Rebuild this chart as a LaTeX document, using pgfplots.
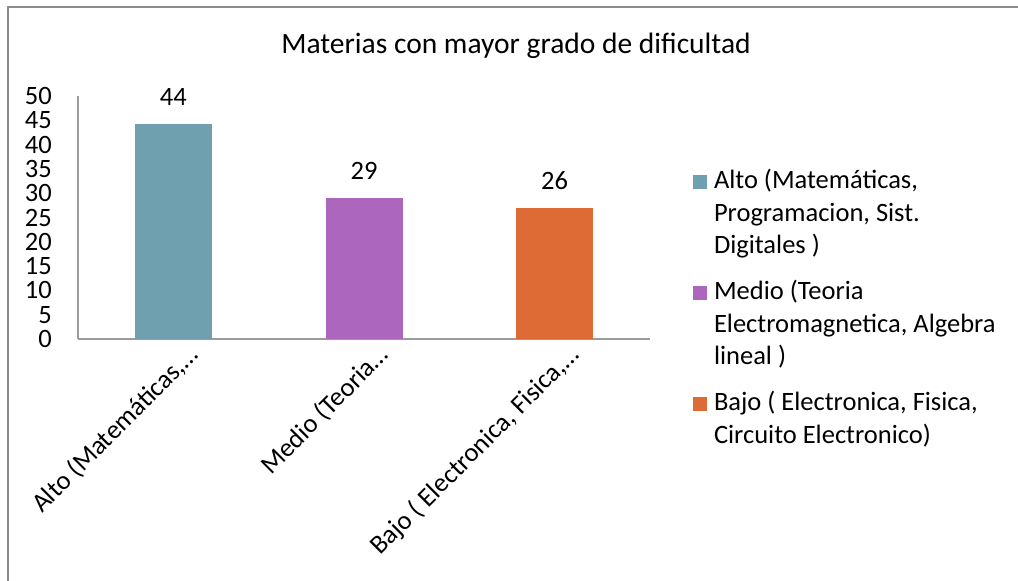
\documentclass[border=0pt]{standalone}
\usepackage{pgfplots}
\pgfplotsset{compat=1.18}
\usepackage{fontspec}
\setmainfont{Carlito}
\definecolor{cA}{RGB}{111,160,176}
\definecolor{cB}{RGB}{172,102,190}
\definecolor{cC}{RGB}{222,107,54}
\definecolor{axgray}{RGB}{155,155,155}
\definecolor{framegray}{RGB}{140,140,140}
\begin{document}
\begin{tikzpicture}[x=1pt,y=1pt]
\path[use as bounding box, fill=white] (0,0) rectangle (1018,581);
\draw[framegray, line width=1.5pt] (8,-2) -- (8,574) -- (1020,574);
\node[font=\fontsize{29.5}{34}\selectfont, anchor=base] at (516,527) {Materias con mayor grado de dificultad};
\begin{axis}[
 at={(78pt,242pt)}, anchor=south west,
 scale only axis, width=572pt, height=243pt,
 xmin=-0.5, xmax=2.5, ymin=0, ymax=50,
 axis x line*=bottom, axis y line*=left,
 axis line style={axgray, line width=1.2pt, -},
 ytick={0,5,...,50},
 xtick={0,1,2},
 xticklabels={{Alto (Matemáticas,…}, {Medio (Teoria…}, {Bajo ( Electronica, Fisica,…}},
 major tick length=0pt,
 tick style={draw=none},
 /pgf/number format/assume math mode=true,
 yticklabel style={font=\fontsize{26.5}{28}\selectfont, anchor=east, inner sep=0pt, xshift=-26pt},
 xticklabel style={font=\fontsize{26.5}{28}\selectfont, rotate=45, anchor=east, inner sep=0pt, xshift=6pt, yshift=-23pt},
 ybar, bar width=77pt, bar shift=0pt,
 nodes near coords, point meta=explicit symbolic,
 every node near coord/.append style={font=\fontsize{26.5}{28}\selectfont, inner sep=0pt, yshift=18pt, anchor=south, black},
 legend style={draw=none, fill=none, at={(1.0752,0.7119)}, anchor=north west, inner sep=0pt, outer sep=0pt, row sep=13.5pt, column sep=7pt, font=\fontsize{26.5}{32.5}\selectfont, nodes={inner sep=0pt, text depth=}, cells={anchor=base west}},
 legend image code/.code={\fill[#1] (0pt,0pt) rectangle (14pt,14pt);},
 clip=false,
]
\addplot[fill=cA, draw=none] coordinates {(0,44.2) [44]};
\addlegendentry{\begin{tabular}[t]{@{}l@{}}Alto (Matemáticas,\\Programacion, Sist.\\Digitales )\end{tabular}}
\addplot[fill=cB, draw=none] coordinates {(1,29.0) [29]};
\addlegendentry{\begin{tabular}[t]{@{}l@{}}Medio (Teoria\\Electromagnetica, Algebra\\lineal )\end{tabular}}
\addplot[fill=cC, draw=none] coordinates {(2,27.0) [26]};
\addlegendentry{\begin{tabular}[t]{@{}l@{}}Bajo ( Electronica, Fisica,\\Circuito Electronico)\end{tabular}}
\end{axis}
\end{tikzpicture}
\end{document}
